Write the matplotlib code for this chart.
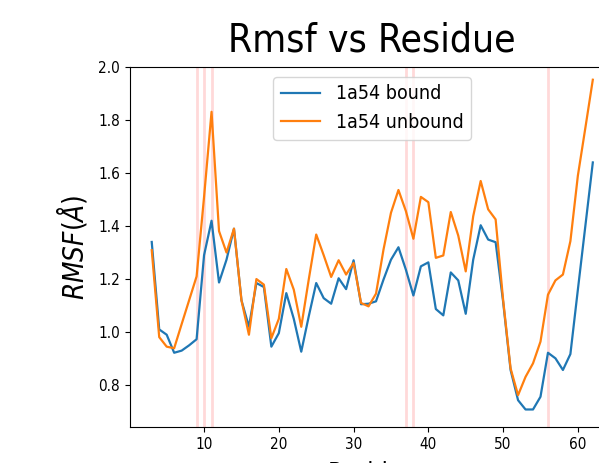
import numpy as np
import matplotlib
matplotlib.use('Agg')
import matplotlib.pyplot as plt

residues = np.arange(3, 63)

rmsf_bound = [1.34, 1.01, 0.99, 0.922, 0.93, 0.95, 0.973, 1.29, 1.42, 1.187,
              1.273, 1.39, 1.12, 1.02, 1.185, 1.17, 0.945, 0.996, 1.147, 1.05,
              0.926, 1.059, 1.185, 1.128, 1.107, 1.203, 1.162, 1.271, 1.105, 1.107,
              1.116, 1.198, 1.273, 1.32, 1.235, 1.138, 1.248, 1.263, 1.087, 1.063,
              1.225, 1.195, 1.069, 1.273, 1.403, 1.349, 1.339, 1.115, 0.857, 0.743,
              0.708, 0.708, 0.756, 0.922, 0.901, 0.857, 0.917, 1.16, 1.40, 1.64]

rmsf_unbound = [1.309, 0.981, 0.945, 0.939, 1.03, 1.12, 1.21, 1.51, 1.831, 1.381,
                1.30, 1.39, 1.12, 0.99, 1.20, 1.179, 0.977, 1.05, 1.238, 1.16,
                1.02, 1.198, 1.368, 1.29, 1.208, 1.271, 1.217, 1.261, 1.11, 1.097,
                1.145, 1.311, 1.45, 1.536, 1.456, 1.352, 1.51, 1.49, 1.28, 1.289,
                1.453, 1.364, 1.229, 1.437, 1.57, 1.463, 1.425, 1.122, 0.863, 0.762,
                0.831, 0.882, 0.964, 1.141, 1.195, 1.217, 1.343, 1.59, 1.77, 1.952]

# residues highlighted in the plot
marked_residues = [9, 10, 11, 37, 38, 56]

plt.rcParams['font.family'] = 'DejaVu Sans'
plt.rcParams['font.stretch'] = 'condensed'

fig = plt.figure(figsize=(5.99, 4.63), dpi=100)
ax = fig.add_axes([0.2165, 0.0778, 0.81, 0.7775])

for r in marked_residues:
    ax.axvline(r, color='red', alpha=0.15, lw=2)

ax.plot(residues, rmsf_bound, label='1a54 bound', lw=1.6)
ax.plot(residues, rmsf_unbound, label='1a54 unbound', lw=1.6)

ax.set_xlim(0.05, 64.95)
ax.set_ylim(0.642, 2.0)
ax.set_xticks([10, 20, 30, 40, 50, 60])
ax.set_yticks([0.8, 1.0, 1.2, 1.4, 1.6, 1.8, 2.0])
ax.tick_params(labelsize=11)

ax.set_title('Rmsf vs Residue', fontsize=28, pad=11)
ax.set_xlabel('Residue', fontsize=18, labelpad=7)
ax.set_ylabel(r'$RMSF(\AA)$', fontsize=20, labelpad=6)

ax.legend(loc='upper center', fontsize=14)

fig.savefig('out.png', dpi=100)
